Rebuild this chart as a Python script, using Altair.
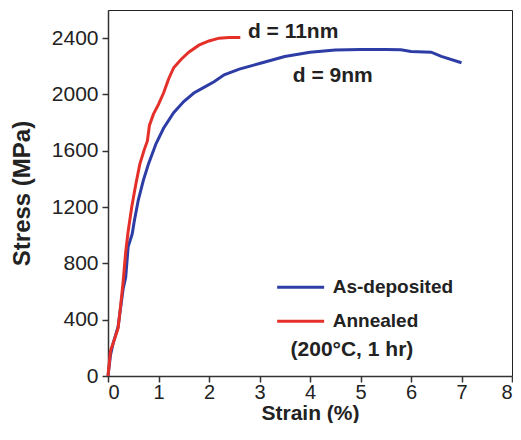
import altair as alt
import pandas as pd

# Annealed (red) curve
ann_strain = [0, 0.05, 0.1, 0.2, 0.25, 0.3, 0.35, 0.4, 0.47, 0.55, 0.63, 0.72, 0.78, 0.82,
              0.9, 1.0, 1.1, 1.2, 1.3, 1.45, 1.6, 1.8, 2.0, 2.2, 2.4, 2.62]
ann_stress = [0, 180, 230, 340, 500, 670, 880, 1030, 1200, 1360, 1505, 1610, 1670, 1780,
              1860, 1930, 2010, 2110, 2190, 2250, 2300, 2350, 2380, 2400, 2405, 2405]

# As-deposited (blue) curve
dep_strain = [0, 0.05, 0.1, 0.2, 0.3, 0.35, 0.4, 0.48, 0.52, 0.6, 0.7, 0.8, 0.95, 1.1, 1.3,
              1.5, 1.7, 1.9, 2.1, 2.3, 2.6, 3.0, 3.5, 4.0, 4.5, 5.0, 5.5, 5.8, 6.0, 6.4,
              6.6, 7.0]
dep_stress = [0, 150, 230, 350, 620, 700, 920, 1010, 1100, 1250, 1390, 1505, 1650, 1760,
              1870, 1950, 2010, 2050, 2090, 2140, 2180, 2220, 2270, 2300, 2315, 2320, 2320,
              2318, 2305, 2300, 2270, 2225]

series_names = ["As-deposited", "Annealed"]
series_colors = ["#2E3DA5", "#E5302A"]

# legend placement (data units)
leg_x0 = [3.35, 3.35]
leg_x1 = [4.28, 4.28]
leg_text_x = [4.45, 4.45]
leg_y = [630, 389]

ann_labels = ["d = 11nm", "d = 9nm"]
ann_x = [2.77, 3.66]
ann_y = [2443, 2131]

cond_label = ["(200°C, 1 hr)"]
cond_x = [4.83]
cond_y = [184]

y_ticks = list(range(0, 2601, 100))
x_ticks = list(range(0, 9))

df = pd.concat([
    pd.DataFrame({"strain": dep_strain, "stress": dep_stress, "series": "As-deposited",
                  "order": range(len(dep_strain))}),
    pd.DataFrame({"strain": ann_strain, "stress": ann_stress, "series": "Annealed",
                  "order": range(len(ann_strain))}),
])

FONT = "Liberation Sans"

color_scale = alt.Scale(domain=series_names, range=series_colors)

x_enc = alt.X("strain:Q", scale=alt.Scale(domain=[0, 8], nice=False),
              axis=alt.Axis(title="Strain (%)", values=x_ticks, grid=False,
                            tickSize=6, labelPadding=0, titleY=43,
                            titleBaseline="alphabetic",
                            labelFontSize=20, titleFontSize=21))
y_enc = alt.Y("stress:Q", scale=alt.Scale(domain=[0, 2600], nice=False),
              axis=alt.Axis(title="Stress (MPa)", values=y_ticks, grid=False,
                            labelExpr="datum.value % 400 == 0 ? datum.value : ''",
                            tickSize=6, labelPadding=4, titleX=-86,
                            titleBaseline="middle",
                            labelFontSize=21, titleFontSize=24))

lines = alt.Chart(df).mark_line(strokeWidth=3).encode(
    x=x_enc,
    y=y_enc,
    color=alt.Color("series:N", scale=color_scale, legend=None),
    order="order:Q",
    detail="series:N",
)

leg_df = pd.DataFrame({"x0": leg_x0, "x1": leg_x1, "tx": leg_text_x, "y": leg_y,
                       "series": series_names})
leg_rules = alt.Chart(leg_df).mark_rule(strokeWidth=3).encode(
    x="x0:Q", x2="x1:Q", y="y:Q",
    color=alt.Color("series:N", scale=color_scale, legend=None))
leg_text = alt.Chart(leg_df).mark_text(align="left", baseline="middle", fontSize=19,
                                       fontWeight="bold", font=FONT, color="#222").encode(
    x="tx:Q", y="y:Q", text="series:N")

ann_df = pd.DataFrame({"strain": ann_x, "stress": ann_y, "label": ann_labels})
ann = alt.Chart(ann_df).mark_text(align="left", baseline="middle", fontSize=21,
                                  fontWeight="bold", font=FONT, color="#222").encode(
    x="strain:Q", y="stress:Q", text="label:N")

cond_df = pd.DataFrame({"strain": cond_x, "stress": cond_y, "label": cond_label})
cond = alt.Chart(cond_df).mark_text(align="center", baseline="middle", fontSize=21,
                                    fontWeight="bold", font=FONT, color="#222").encode(
    x="strain:Q", y="stress:Q", text="label:N")

chart = alt.layer(lines, leg_rules, leg_text, ann, cond).properties(
    width=404, height=366,
    autosize=alt.AutoSizeParams(type="none"),
    padding={"left": 100, "top": 2, "right": 1, "bottom": 47},
    background="white",
).configure_view(stroke="#222", strokeWidth=1).configure_axis(
    labelFont=FONT, titleFont=FONT, labelColor="#222", titleColor="#222",
    titleFontWeight="bold", domainColor="#333", domainWidth=1.5,
    tickColor="#333", tickWidth=1.5,
)

chart.save("out.html", embed_options={"renderer": "svg", "actions": False})
